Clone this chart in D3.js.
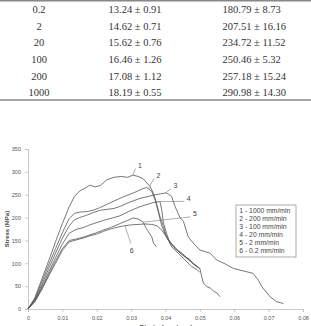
<!DOCTYPE html>
<html>
<head>
<meta charset="utf-8">
<script src="https://cdn.jsdelivr.net/npm/d3@7"></script>
<style>
    body { margin: 0; background: #fff; }
    svg { display: block; }
</style>
</head>
<body>
<div id="chart-area"></div>
<script>
// table values
let rateLabels = ["0.2", "2", "20", "100", "200", "1000"];
let col2Values = ["13.24 ± 0.91", "14.62 ± 0.71", "15.62 ± 0.76", "16.46 ± 1.26", "17.08 ± 1.12", "18.19 ± 0.55"];
let col3Values = ["180.79 ± 8.73", "207.51 ± 16.16", "234.72 ± 11.52", "250.46 ± 5.32", "257.18 ± 15.24", "290.98 ± 14.30"];

// stress-strain curves, [strain, stress MPa]
let curve1 = [[0,0],[0.002,25],[0.004,65],[0.006,105],[0.008,147],[0.010,187],[0.012,224],[0.0135,246],[0.015,258],[0.017,266],[0.018,271],[0.0195,267],[0.021,270],[0.023,283],[0.025,288],[0.027,290],[0.029,288],[0.0305,293],[0.032,290],[0.0335,285],[0.0355,268],[0.0365,253],[0.0374,231],[0.0384,202],[0.0394,180],[0.0403,158],[0.0418,136],[0.0437,122],[0.0457,107],[0.0476,93],[0.0492,86],[0.0500,80]];
let curve2 = [[0,0],[0.002,22],[0.004,59],[0.006,96],[0.008,132],[0.010,167],[0.012,198],[0.0135,209],[0.015,212],[0.017,213],[0.019,216],[0.021,222],[0.023,229],[0.025,236],[0.027,243],[0.029,249],[0.031,255],[0.033,262],[0.0345,266],[0.036,257],[0.037,238],[0.038,209],[0.0389,182],[0.040,162],[0.041,150],[0.042,141],[0.0435,129],[0.045,121],[0.046,113],[0.047,109],[0.048,99],[0.049,93],[0.0500,89],[0.0505,72],[0.051,57],[0.052,49],[0.053,46],[0.054,39],[0.055,35],[0.0558,27]];
let curve3 = [[0,0],[0.002,20],[0.004,53],[0.006,88],[0.008,122],[0.010,155],[0.012,182],[0.0135,195],[0.015,200],[0.017,205],[0.019,211],[0.021,216],[0.023,218],[0.025,220],[0.027,225],[0.029,232],[0.0326,242],[0.0365,249],[0.0385,252],[0.0403,254],[0.0418,246],[0.0428,224],[0.0442,200],[0.0452,192],[0.0466,158],[0.0481,144],[0.050,129],[0.053,122],[0.0549,107],[0.057,100],[0.0597,89],[0.0617,85],[0.0655,78],[0.067,63],[0.068,49],[0.0704,27],[0.0723,16],[0.0743,12]];
let curve4 = [[0,0],[0.002,18],[0.004,48],[0.006,80],[0.008,112],[0.010,142],[0.012,166],[0.014,174],[0.016,178],[0.018,184],[0.020,189],[0.022,194],[0.0245,199],[0.0268,204],[0.0295,214],[0.0326,224],[0.0365,233],[0.0384,235],[0.0389,217],[0.0394,188],[0.0403,166],[0.0413,144],[0.0432,129],[0.045,118],[0.047,106],[0.0485,97],[0.050,88]];
let curve5 = [[0,0],[0.002,17],[0.004,45],[0.006,75],[0.008,105],[0.010,132],[0.012,150],[0.014,153],[0.016,157],[0.018,162],[0.020,167],[0.022,173],[0.024,178],[0.0268,187],[0.029,194],[0.0306,199],[0.032,197],[0.0335,190],[0.0345,175],[0.036,158],[0.0365,144],[0.0374,136]];
let curve6 = [[0,0],[0.002,16],[0.004,42],[0.006,72],[0.008,100],[0.010,128],[0.012,147],[0.014,151],[0.016,155],[0.018,160],[0.020,164],[0.022,170],[0.024,175],[0.026,179],[0.028,182],[0.030,184],[0.032,185],[0.034,186],[0.036,185],[0.0375,182],[0.039,172],[0.0405,155],[0.042,140],[0.0435,128],[0.045,118],[0.0465,110],[0.048,100],[0.0495,92]];

let curveNames = ["1", "2", "3", "4", "5", "6"];
let legendLabels = ["1 - 1000 mm/min", "2 - 200 mm/min", "3 - 100 mm/min", "4 - 20 mm/min", "5 - 2 mm/min", "6 - 0.2 mm/min"];
// curve labels: text position [strain, stress], then the strain where the leader meets the curve
let labelText = [[0.0320, 314], [0.0374, 292], [0.0423, 270], [0.0462, 242], [0.0480, 208], [0.0302, 128]];
let labelHit = [0.0305, 0.0350, 0.0400, 0.0384, 0.0335, 0.0282];

let xTicks = [0, 0.01, 0.02, 0.03, 0.04, 0.05, 0.06, 0.07, 0.08];
let yTicks = [0, 50, 100, 150, 200, 250, 300, 350];

let width = 311, height = 326;

let svg = d3.select("#chart-area")
    .append("svg")
    .attr("width", width)
    .attr("height", height);

/*
    Table at the top
*/
let rowY = d3.scaleBand().domain(d3.range(rateLabels.length)).range([1, 101]);

svg.append("line")
    .attr("x1", 0).attr("x2", width)
    .attr("y1", 0.8).attr("y2", 0.8)
    .attr("stroke", "#888").attr("stroke-width", 1.5);
svg.append("line")
    .attr("x1", 0).attr("x2", width)
    .attr("y1", 100).attr("y2", 100)
    .attr("stroke", "#888").attr("stroke-width", 1.5);

let rows = svg.selectAll(".row")
    .data(rateLabels)
    .enter()
    .append("g")
    .attr("class", "row")
    .attr("transform", (d, i) => "translate(0," + (rowY(i) + rowY.bandwidth() / 2 + 3.6) + ")")
    .style("font-family", "'Liberation Serif', 'Times New Roman', serif")
    .style("font-size", "10.5px")
    .attr("fill", "#333");

rows.append("text").attr("x", 39).attr("text-anchor", "middle").text(d => d);
rows.append("text").attr("x", 108.5).text((d, i) => col2Values[i]);
rows.append("text").attr("x", 222.5).text((d, i) => col3Values[i]);

/*
    Stress-strain chart
*/
let x = d3.scaleLinear().domain([0, 0.08]).range([28, 303]);
let y = d3.scaleLinear().domain([0, 350]).range([309, 149]);

let xAxis = d3.axisBottom(x).tickValues(xTicks).tickSize(3)
    .tickFormat(d => d === 0 ? "0" : d3.format(".2f")(d));
let yAxis = d3.axisLeft(y).tickValues(yTicks).tickSize(3);

let gx = svg.append("g").attr("transform", "translate(0," + y(0) + ")").call(xAxis);
let gy = svg.append("g").attr("transform", "translate(" + x(0) + ",0)").call(yAxis);

[gx, gy].forEach(g => {
    g.select(".domain").attr("stroke", "#bbb").attr("stroke-width", 0.8);
    g.selectAll(".tick line").attr("stroke", "#bbb").attr("stroke-width", 0.8);
    g.selectAll(".tick text")
        .attr("fill", "#555")
        .style("font-family", "'Liberation Sans', Arial, sans-serif")
        .style("font-size", "5.5px");
});
gx.selectAll(".tick text").attr("dy", "0.9em");
gy.selectAll(".tick text").attr("dx", "-1");

svg.append("text")
    .attr("x", 166).attr("y", 330)
    .attr("text-anchor", "middle")
    .style("font-family", "'Liberation Sans', Arial, sans-serif")
    .style("font-size", "7px").style("font-weight", "bold")
    .attr("fill", "#444")
    .text("Strain (mm/mm)");

svg.append("text")
    .attr("transform", "translate(9," + y(175) + ") rotate(-90)")
    .attr("text-anchor", "middle")
    .style("font-family", "'Liberation Sans', Arial, sans-serif")
    .style("font-size", "6px").style("font-weight", "bold")
    .attr("fill", "#444")
    .text("Stress (MPa)");

let curves = [curve1, curve2, curve3, curve4, curve5, curve6];

let line = d3.line()
    .x(d => x(d[0]))
    .y(d => y(d[1]));

svg.selectAll(".curve")
    .data(curves)
    .enter()
    .append("path")
    .attr("class", "curve")
    .attr("d", line)
    .attr("fill", "none")
    .attr("stroke", "#555")
    .attr("stroke-width", 0.8);

// stress on a curve at a given strain
function stressAt(curve, s) {
    let i = d3.bisector(d => d[0]).left(curve, s);
    if (i <= 0) return curve[0][1];
    if (i >= curve.length) return curve[curve.length - 1][1];
    let a = curve[i - 1], b = curve[i];
    return a[1] + (b[1] - a[1]) * (s - a[0]) / (b[0] - a[0]);
}

// curve number labels with leader lines
curveNames.forEach((name, i) => {
    let tx = x(labelText[i][0]), ty = y(labelText[i][1]);
    let hx = x(labelHit[i]), hy = y(stressAt(curves[i], labelHit[i]));
    let sx = tx - 2.5, sy = ty + (hy > ty ? 3 : -4);
    if (i == 5) { sx = tx - 1; sy = ty - 7; }
    svg.append("line")
        .attr("x1", sx).attr("y1", sy)
        .attr("x2", hx).attr("y2", hy)
        .attr("stroke", "#777").attr("stroke-width", 0.6);
    svg.append("text")
        .attr("x", tx).attr("y", ty + 2.5)
        .attr("text-anchor", i == 5 ? "middle" : "start")
        .style("font-family", "'Liberation Sans', Arial, sans-serif")
        .style("font-size", "7px")
        .attr("fill", "#444")
        .text(name);
});

// legend box
let legend = svg.append("g");
legend.append("rect")
    .attr("x", 236).attr("y", 205)
    .attr("width", 60).attr("height", 52)
    .attr("fill", "#fff")
    .attr("stroke", "#888").attr("stroke-width", 0.7);
legend.selectAll("text")
    .data(legendLabels)
    .enter()
    .append("text")
    .attr("x", 239.3)
    .attr("y", (d, i) => 213 + 8 * i)
    .style("font-family", "'Liberation Sans', Arial, sans-serif")
    .style("font-size", "6.8px")
    .attr("fill", "#444")
    .text(d => d);
</script>
</body>
</html>
